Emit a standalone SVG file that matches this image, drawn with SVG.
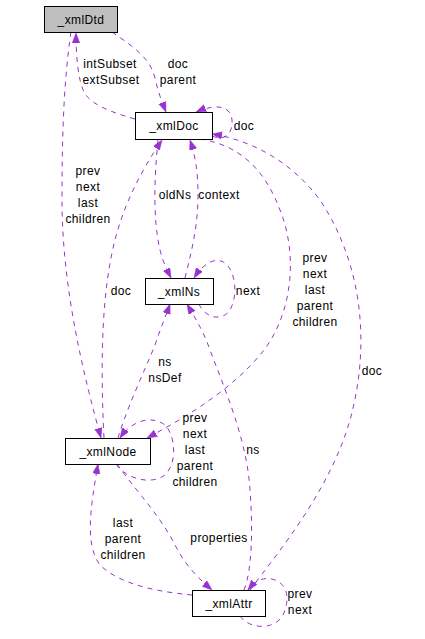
<svg xmlns="http://www.w3.org/2000/svg" width="425" height="639" viewBox="0 0 425 639">
<style>
  text { font-family: "Liberation Sans", Arial, sans-serif; font-size: 12px; letter-spacing: 0.4px; fill: #000; text-anchor: middle; }
  .box { fill: #fff; stroke: #000; stroke-width: 1; }
  .main { fill: #bfbfbf; }
  .edge { fill: none; stroke: #9a32cd; stroke-width: 1; stroke-dasharray: 5,5; marker-end: url(#arr); }
</style>
<defs>
  <marker id="arr" markerUnits="userSpaceOnUse" markerWidth="11" markerHeight="8" refX="10" refY="3.75" orient="auto">
    <path d="M0,0 L10,3.75 L0,7.5 z" fill="#9a32cd" stroke="#9a32cd" stroke-width="0.5"/>
  </marker>
</defs>
<rect width="425" height="639" fill="#fff"/>
<g id="edges">
  <path class="edge" d="M112,32 C135,48 150,58 155,78 C158,92 162,102 166,112"/>
  <path class="edge" d="M135,119 C110,112 90,104 84,92 C78,80 76,55 76,33"/>
  <path class="edge" d="M71,32 C64,80 62,130 62,200 C62,290 85,380 101,438"/>
  <path class="edge" d="M212,136 C226,142 233,132 232,120 C231,108 220,102 196,112"/>
  <path class="edge" d="M250,590 C280,550 330,490 350,420 C372,340 360,260 320,200 C290,160 250,140 212,134"/>
  <path class="edge" d="M200,139 C240,145 265,170 280,210 C300,260 290,320 260,355 C230,390 190,415 147,438"/>
  <path class="edge" d="M104,438 C100,360 102,290 115,240 C125,200 145,165 162,140"/>
  <path class="edge" d="M185,278 C192,250 198,225 198,195 C198,170 195,155 190,140"/>
  <path class="edge" d="M158,140 C154,180 153,220 160,250 C163,262 167,270 171,278"/>
  <path class="edge" d="M199,304 C205,318 222,322 230,310 C238,296 236,272 225,263 C215,256 203,264 194,278"/>
  <path class="edge" d="M118,438 C128,405 145,370 155,345 C160,330 165,318 170,304"/>
  <path class="edge" d="M116,464 C125,478 150,486 165,475 C178,462 175,435 165,425 C152,415 132,420 120,438"/>
  <path class="edge" d="M117,464 C135,490 160,515 175,545 C185,565 198,578 212,590"/>
  <path class="edge" d="M192,595 C160,592 120,585 100,565 C85,545 90,510 98,464"/>
  <path class="edge" d="M244,590 C252,570 253,530 250,490 C247,440 225,390 210,350 C203,330 195,318 187,304"/>
  <path class="edge" d="M240,616 C250,630 275,630 283,615 C290,600 288,585 275,580 C265,576 256,580 248,590"/>
</g>
<g id="edge-labels">
  <text x="178" y="68">doc</text>
  <text x="178" y="84">parent</text>
  <text x="110" y="68">intSubset</text>
  <text x="111" y="84">extSubset</text>
  <text x="88" y="175">prev</text>
  <text x="88" y="191">next</text>
  <text x="88" y="207">last</text>
  <text x="88" y="223">children</text>
  <text x="244" y="130">doc</text>
  <text x="372" y="375">doc</text>
  <text x="315" y="262">prev</text>
  <text x="315" y="278">next</text>
  <text x="315" y="294">last</text>
  <text x="315" y="310">parent</text>
  <text x="315" y="326">children</text>
  <text x="121" y="295">doc</text>
  <text x="219" y="199">context</text>
  <text x="175" y="199">oldNs</text>
  <text x="248" y="295">next</text>
  <text x="165" y="366">ns</text>
  <text x="165" y="382">nsDef</text>
  <text x="195" y="422">prev</text>
  <text x="195" y="438">next</text>
  <text x="195" y="454">last</text>
  <text x="195" y="470">parent</text>
  <text x="195" y="486">children</text>
  <text x="219" y="542">properties</text>
  <text x="123" y="527">last</text>
  <text x="123" y="543">parent</text>
  <text x="123" y="559">children</text>
  <text x="253" y="454">ns</text>
  <text x="300" y="598">prev</text>
  <text x="300" y="614">next</text>
</g>
<g id="xmlDtd">
  <rect class="box main" x="44.5" y="6.5" width="73" height="26"/>
  <text x="81" y="23.5">_xmlDtd</text>
</g>
<g id="xmlDoc">
  <rect class="box" x="135.5" y="112.5" width="77" height="27"/>
  <text x="174" y="130">_xmlDoc</text>
</g>
<g id="xmlNs">
  <rect class="box" x="145.5" y="278.5" width="68" height="26"/>
  <text x="179" y="295.5">_xmlNs</text>
</g>
<g id="xmlNode">
  <rect class="box" x="65.5" y="438.5" width="85" height="26"/>
  <text x="108" y="455.5">_xmlNode</text>
</g>
<g id="xmlAttr">
  <rect class="box" x="192.5" y="590.5" width="73" height="26"/>
  <text x="229" y="607.5">_xmlAttr</text>
</g>
</svg>
